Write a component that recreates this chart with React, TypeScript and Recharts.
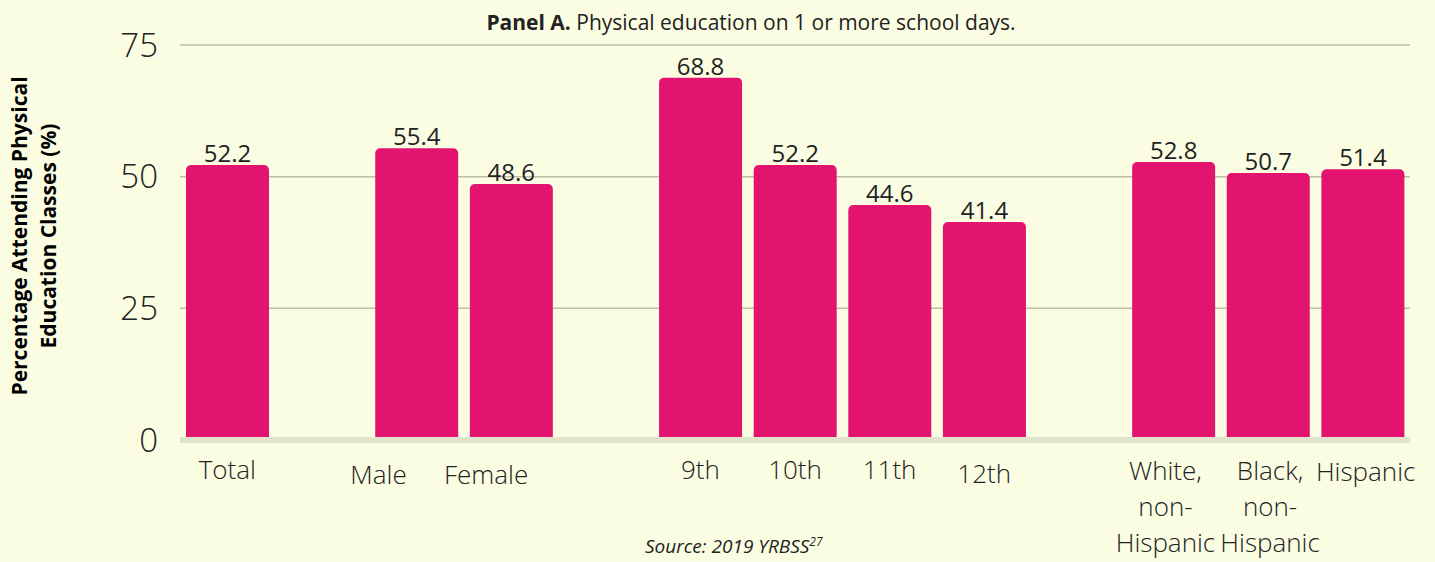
import React from 'react'
import { BarChart, Bar, XAxis, YAxis, CartesianGrid, LabelList } from 'recharts'

// empty strings are spacer slots between the groups
const categories = [
  'Total',
  '',
  'Male',
  'Female',
  '',
  '9th',
  '10th',
  '11th',
  '12th',
  '',
  'White,\nnon-\nHispanic',
  'Black,\nnon-\nHispanic',
  'Hispanic',
]
const pctAttending: (number | null)[] = [
  52.2, null, 55.4, 48.6, null, 68.8, 52.2, 44.6, 41.4, null, 52.8, 50.7, 51.4,
]
const yTicks = [0, 25, 50, 75]

const BG = '#fbfde3'
const BAR = '#e3146f'
const TEXT = '#222222'
const FONT = '"Open Sans", sans-serif'

// label nudges to follow the original layout
const labelShift: Record<string, [number, number]> = {
  Male: [-38, 5],
  Female: [-25, 5],
  '12th': [0, 4],
  'White,\nnon-\nHispanic': [-8, 1],
  'Black,\nnon-\nHispanic': [2, 1],
  Hispanic: [3, 2],
}

const data = categories.map((name, i) => ({ name, value: pctAttending[i] }))

function CategoryTick(props: any) {
  const { x, y, payload } = props
  const label: string = payload.value ?? ''
  if (!label) return null
  const [dx, dy] = labelShift[label] ?? [0, 0]
  const lines = label.split('\n')
  return (
    <text
      x={x + dx}
      y={y + dy}
      textAnchor="middle"
      fill={TEXT}
      fontFamily={FONT}
      fontSize={26}
      fontWeight={300}
    >
      {lines.map((ln, i) => (
        <tspan key={i} x={x + dx} dy={i === 0 ? 31 : 36}>
          {ln}
        </tspan>
      ))}
    </text>
  )
}

export default function App() {
  return (
    <div
      style={{
        position: 'absolute',
        left: 0,
        top: 0,
        width: 1435,
        height: 562,
        background: BG,
        fontFamily: FONT,
        color: TEXT,
        overflow: 'hidden',
      }}
    >
      <div
        style={{
          position: 'absolute',
          left: 0,
          width: 1502,
          top: 8,
          textAlign: 'center',
          fontSize: 21,
          lineHeight: '28px',
          whiteSpace: 'nowrap',
        }}
      >
        <b>Panel A.</b> Physical education on 1 or more school days.
      </div>

      <div
        style={{
          position: 'absolute',
          left: 34,
          top: 236,
          width: 420,
          transform: 'translate(-50%, -50%) rotate(-90deg)',
          textAlign: 'center',
          fontSize: 21,
          fontWeight: 700,
          lineHeight: '29px',
          color: '#000',
          whiteSpace: 'nowrap',
        }}
      >
        Percentage Attending Physical
        <br />
        Education Classes (%)
      </div>

      <BarChart
        width={1435}
        height={562}
        data={data}
        margin={{ top: 45, right: 25, bottom: 22, left: 60 }}
      >
        <CartesianGrid
          vertical={false}
          stroke="#bdbfa4"
          strokeWidth={1.5}
          horizontalValues={[25, 50, 75]}
        />
        <XAxis
          dataKey="name"
          interval={0}
          tickLine={false}
          axisLine={{ stroke: '#e1e3cc', strokeWidth: 6 }}
          height={100}
          tick={<CategoryTick />}
        />
        <YAxis
          width={120}
          domain={[0, 75]}
          ticks={yTicks}
          axisLine={false}
          tickLine={false}
          tickMargin={16}
          tick={{ fill: TEXT, fontSize: 33, fontWeight: 300, fontFamily: FONT }}
        />
        <Bar
          dataKey="value"
          fill={BAR}
          barSize={83}
          radius={[5, 5, 0, 0]}
          isAnimationActive={false}
        >
          <LabelList
            dataKey="value"
            position="top"
            offset={3}
            fill={TEXT}
            fontSize={24}
            fontFamily={FONT}
            formatter={(v: any) => (v == null ? '' : Number(v).toFixed(1))}
          />
        </Bar>
      </BarChart>

      <div
        style={{
          position: 'absolute',
          left: 645,
          top: 534,
          fontSize: 19,
          fontStyle: 'italic',
          lineHeight: '24px',
          whiteSpace: 'nowrap',
        }}
      >
        Source: 2019 YRBSS
        <sup style={{ fontSize: 12, lineHeight: 0, verticalAlign: 'super' }}>27</sup>
      </div>
    </div>
  )
}
